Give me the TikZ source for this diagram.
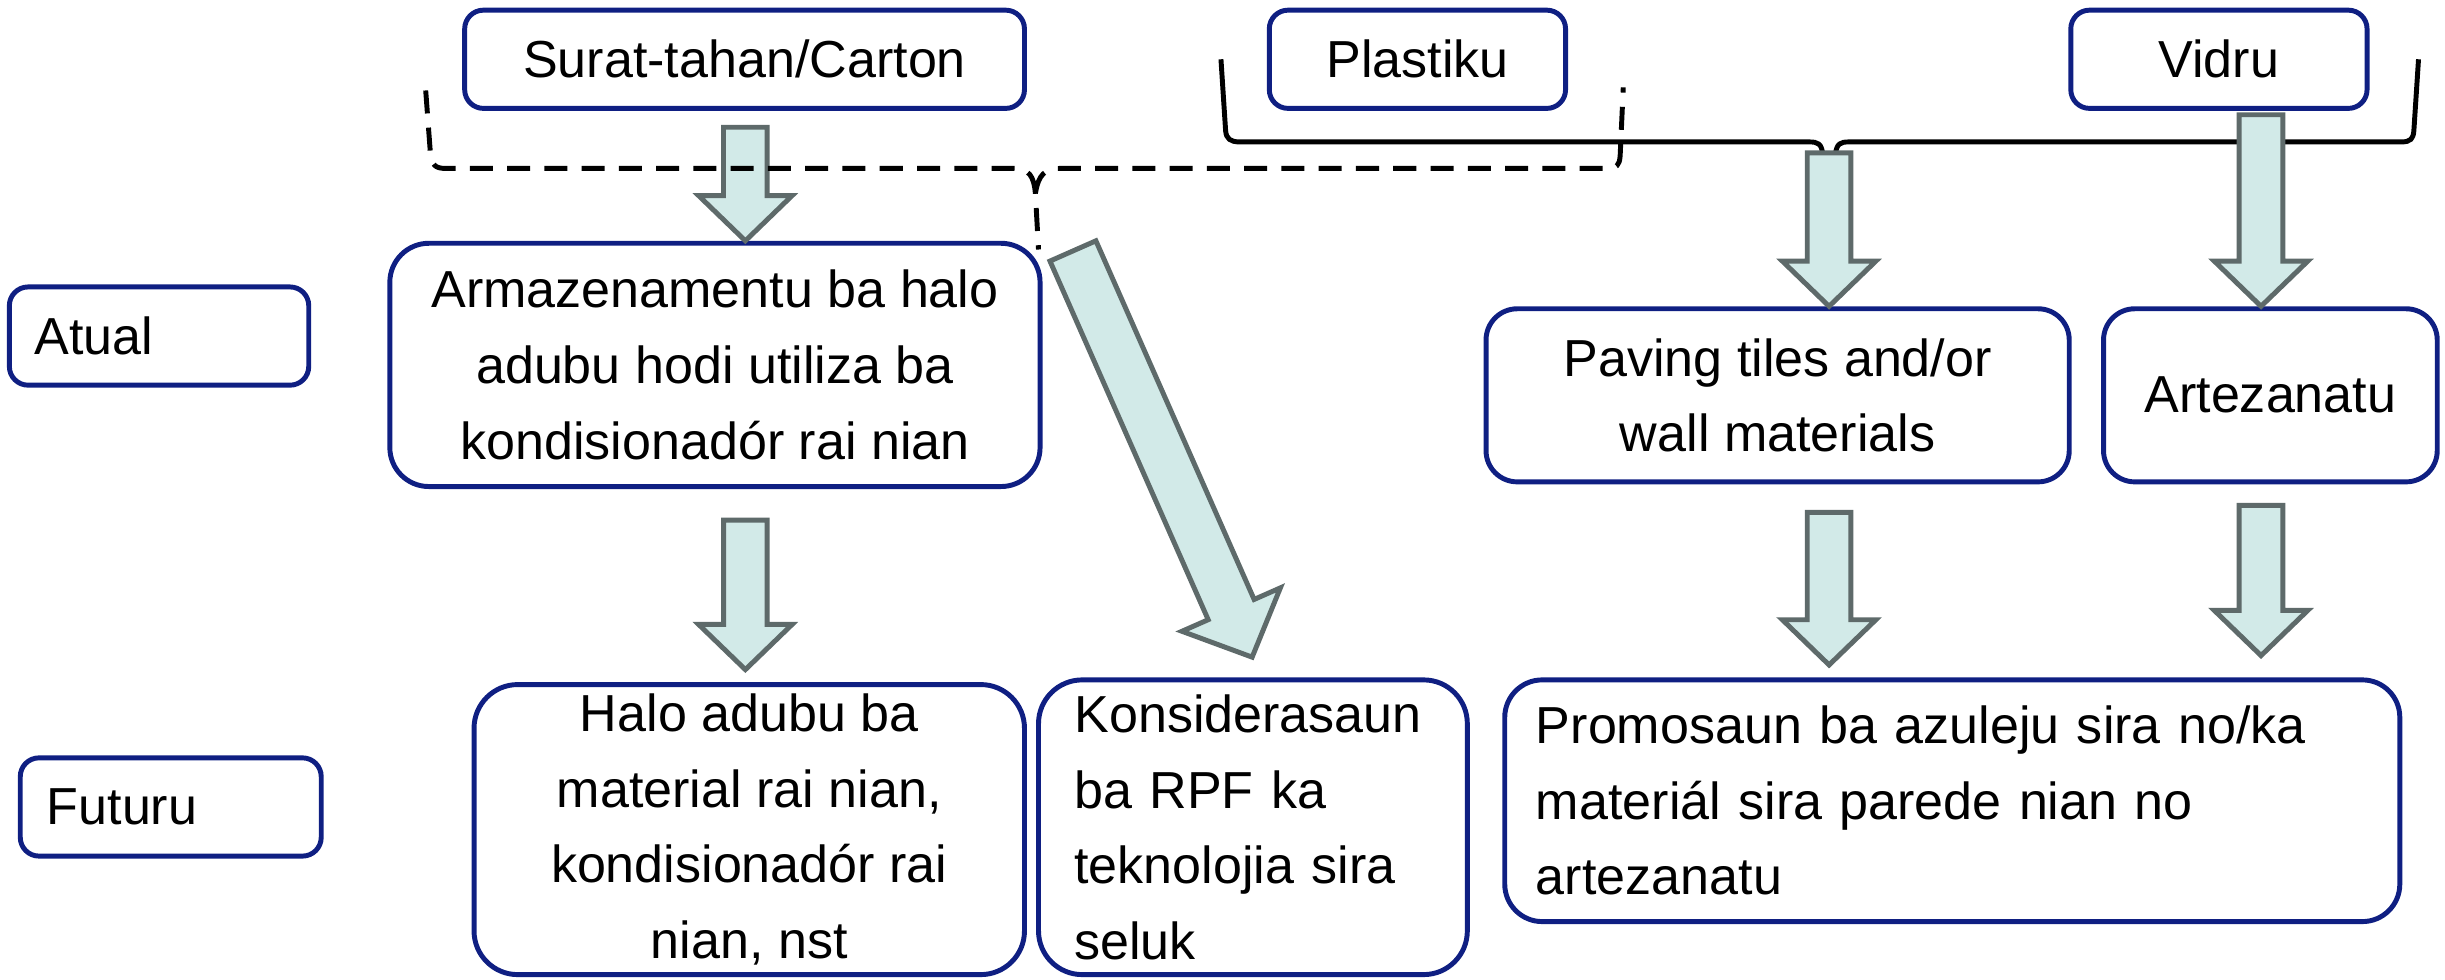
\documentclass[tikz,border=0pt]{standalone}
\usepackage{fontspec}
\setmainfont{Liberation Sans}
\usepackage{tikz}
\usetikzlibrary{calc,positioning}

\definecolor{boxblue}{HTML}{0F1F82}
\definecolor{arrowfill}{HTML}{D2EAE8}
\definecolor{arrowline}{HTML}{5E6A6A}

\tikzset{
  box/.style={draw=boxblue, line width=0.9pt, rounded corners=0.25cm, inner sep=0pt,
    font=\fontsize{9.5}{13.8}\selectfont},
  smallbox/.style={box, rounded corners=0.12cm},
  fatarrow/.style={draw=arrowline, fill=arrowfill, line width=0.9pt, line join=miter},
  brace/.style={black, line width=0.9pt},
  dashedbrace/.style={brace, dash pattern=on 4.2pt off 2.6pt}
}

\newcommand{\fatarrow}[3][1]{%
  \coordinate (fa-h) at ($(#3)!{#1*0.29cm}!(#2)$);
  \draw[fatarrow] ($(#2)!{#1*0.14cm}!90:(#3)$) -- ($(fa-h)!{#1*0.14cm}!90:(#3)$)
    -- ($(fa-h)!{#1*0.30cm}!90:(#3)$) -- (#3) -- ($(fa-h)!{#1*0.30cm}!-90:(#3)$)
    -- ($(fa-h)!{#1*0.14cm}!-90:(#3)$) -- ($(#2)!{#1*0.14cm}!-90:(#3)$) -- cycle;
}

\begin{document}
\begin{tikzpicture}
    \useasboundingbox (0,0) rectangle (15.68,-6.28);

    \node[smallbox, minimum width=3.59cm, minimum height=0.63cm] (surat) at (4.775,-0.38) {Surat-tahan/Carton};
    \node[smallbox, minimum width=1.90cm, minimum height=0.63cm] (plastiku) at (9.09,-0.38) {Plastiku};
    \node[smallbox, minimum width=1.90cm, minimum height=0.63cm] (vidru) at (14.23,-0.38) {Vidru};
    \node[smallbox, text width=1.60cm, inner xsep=0.16cm, minimum height=0.63cm, align=left] (atual) at (1.02,-2.155) {Atual};
    \node[smallbox, text width=1.59cm, inner xsep=0.17cm, minimum height=0.63cm, align=left] (futuru) at (1.095,-5.175) {Futuru};

    \node[box, minimum width=4.17cm, minimum height=1.56cm, align=center] (armaz) at (4.585,-2.34)
        {Armazenamentu ba halo\\adubu hodi utiliza ba\\kondisionadór rai nian};
    \node[box, minimum width=3.74cm, minimum height=1.11cm, align=center, rounded corners=0.2cm] (paving) at (11.40,-2.535)
        {Paving tiles and/or\\wall materials};
    \node[box, minimum width=2.14cm, minimum height=1.11cm, rounded corners=0.2cm] (artez) at (14.56,-2.535) {Artezanatu};

    \node[box, minimum width=3.53cm, minimum height=1.86cm, align=center, rounded corners=0.28cm] (halo) at (4.805,-5.32)
        {Halo adubu ba\\material rai nian,\\kondisionadór rai\\nian, nst};
    \node[box, text width=2.29cm, inner xsep=0.23cm, minimum height=1.89cm, align=left, rounded corners=0.28cm] (konsid) at (8.035,-5.305)
        {Konsiderasaun\\ba RPF ka\\teknolojia sira\\seluk};
    \node[box, text width=5.34cm, inner xsep=0.20cm, minimum height=1.55cm, align=left, rounded corners=0.24cm] (promo) at (12.52,-5.135)
        {Promosaun ba azuleju sira no/ka\\materiál sira parede nian no\\artezanatu};

    \coordinate (cusp) at (11.73,-0.98);
    \draw[brace] (7.83,-0.38) -- (7.86,-0.84) .. controls (7.865,-0.89) and (7.89,-0.91) .. (7.95,-0.91)
        -- (11.60,-0.91) .. controls (11.66,-0.91) and (11.68,-0.92) .. (11.69,-0.99);
    \draw[brace] (11.77,-0.99) .. controls (11.78,-0.92) and (11.80,-0.91) .. (11.86,-0.91)
        -- (15.40,-0.91) .. controls (15.46,-0.91) and (15.475,-0.89) .. (15.48,-0.84) -- (15.51,-0.38);

    \coordinate (a1s) at ($(surat.south)+(0.005,-0.105)$);
    \coordinate (a1e) at (a1s |- armaz.north);
    \coordinate (a2s) at ($(armaz.south)+(0.195,-0.20)$);
    \coordinate (a2e) at ($(a2s |- halo.north)+(0,0.08)$);
    \coordinate (a3s) at ($(armaz.north east)+(0.195,-0.065)$);
    \coordinate (a3e) at ($(konsid.north)+(-0.005,0.13)$);
    \coordinate (a4e) at (cusp |- paving.north);
    \coordinate (a5s) at ($(vidru.south)+(0.27,-0.025)$);
    \coordinate (a5e) at (a5s |- artez.north);
    \coordinate (a6s) at ($(cusp |- paving.south)+(0,-0.18)$);
    \coordinate (a6e) at ($(a6s |- promo.north)+(0,0.08)$);
    \coordinate (a7s) at ($(a5s |- artez.south)+(0,-0.135)$);
    \coordinate (a7e) at ($(a7s |- promo.north)+(0,0.14)$);

    \fatarrow{a1s}{a1e}
    \fatarrow{a2s}{a2e}
    \fatarrow[1.15]{a3s}{a3e}
    \fatarrow{cusp}{a4e}
    \fatarrow{a5s}{a5e}
    \fatarrow{a6s}{a6e}
    \fatarrow{a7s}{a7e}

    \draw[dashedbrace] (2.73,-0.58) -- (2.76,-0.98) .. controls (2.77,-1.06) and (2.79,-1.08) .. (2.86,-1.08)
        -- (6.50,-1.08) .. controls (6.60,-1.08) and (6.63,-1.13) .. (6.64,-1.24) -- (6.66,-1.60);
    \draw[dashedbrace] (6.64,-1.24) .. controls (6.66,-1.12) and (6.70,-1.08) .. (6.80,-1.08)
        -- (10.30,-1.08) .. controls (10.37,-1.08) and (10.385,-1.06) .. (10.39,-1.00) -- (10.41,-0.56);
\end{tikzpicture}
\end{document}
